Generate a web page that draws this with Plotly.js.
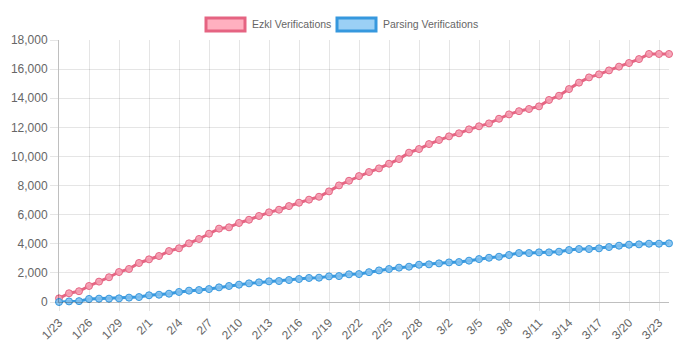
<!DOCTYPE html>
<html>
<head>
<meta charset="utf-8">
<script src="https://cdn.plot.ly/plotly-3.0.1.min.js"></script>
<style>html,body{margin:0;padding:0;background:#fff;}#chart{width:690px;height:360px;}</style>
</head>
<body>
<div id="chart"></div>
<script>
// Dates: 2024-01-23 .. 2024-03-24 (one point per day)
var startDate = "2024-01-23";
var dayCount = 62;
var seriesNames = ["Ezkl Verifications", "Parsing Verifications"];
var ezkl = [250, 600, 740, 1100, 1400, 1700, 2060, 2270, 2680, 2930, 3160, 3500, 3690, 4030, 4330, 4690,
  5040, 5130, 5430, 5650, 5910, 6160, 6340, 6590, 6820, 7030, 7230, 7600, 8010, 8330, 8650, 8930,
  9180, 9500, 9820, 10260, 10510, 10850, 11130, 11380, 11590, 11860, 12070, 12270, 12590, 12890, 13110,
  13260, 13440, 13880, 14170, 14630, 15070, 15430, 15640, 15910, 16170, 16420, 16690, 17040, 17040, 17040];
var parsing = [0, 40, 60, 210, 230, 230, 250, 300, 340, 460, 500, 570, 690, 780, 820, 890,
  1005, 1100, 1190, 1280, 1350, 1420, 1440, 1510, 1580, 1650, 1670, 1760, 1780, 1900, 1920, 2050,
  2170, 2265, 2360, 2425, 2560, 2585, 2655, 2720, 2745, 2840, 2950, 3040, 3110, 3230, 3364,
  3364, 3410, 3410, 3456, 3570, 3640, 3640, 3685, 3776, 3868, 3937, 3959, 4005, 4005, 4028];

var dates = [];
(function () {
  var d0 = new Date(startDate + "T00:00:00Z");
  for (var i = 0; i < dayCount; i++) {
    var d = new Date(d0.getTime() + i * 86400000);
    dates.push(d.toISOString().slice(0, 10));
  }
})();

var red = "rgb(229,100,130)", redFill = "rgba(245,160,180,0.9)";
var blue = "rgb(54,152,222)", blueFill = "rgba(130,192,238,0.9)";

var traces = [
  {x: dates, y: ezkl, name: seriesNames[0], type: "scatter", mode: "lines+markers",
   line: {color: red, width: 3}, marker: {size: 7, color: redFill, line: {color: red, width: 1}},
   cliponaxis: false, showlegend: false},
  {x: dates, y: parsing, name: seriesNames[1], type: "scatter", mode: "lines+markers",
   line: {color: blue, width: 3}, marker: {size: 7, color: blueFill, line: {color: blue, width: 1}},
   cliponaxis: false, showlegend: false}
];

var grid = "rgba(0,0,0,0.1)";
var font = {family: "Liberation Sans, Arial, sans-serif", size: 12, color: "#666"};
var legendFont = {family: "Liberation Sans, Arial, sans-serif", size: 10.5, color: "#666"};

function px(x) { return (x - 59) / 610; }
function py(y) { return (302 - y) / 262; }

var layout = {
  width: 690, height: 360,
  margin: {l: 59, r: 21, t: 40, b: 58},
  paper_bgcolor: "#fff", plot_bgcolor: "#fff",
  font: font,
  showlegend: false,
  xaxis: {
    type: "date",
    range: [dates[0], dates[dates.length - 1]],
    tick0: dates[0], dtick: 3 * 86400000,
    tickformat: "%-m/%-d",
    tickangle: -45,
    showgrid: true, gridcolor: grid, gridwidth: 1,
    ticks: "outside", ticklen: 8, tickcolor: grid,
    showline: true, linecolor: "rgba(0,0,0,0.25)", linewidth: 1,
    zeroline: false, fixedrange: true,
    tickfont: font
  },
  yaxis: {
    range: [0, 18000], dtick: 2000, tickformat: ",d",
    showgrid: true, gridcolor: grid, gridwidth: 1,
    ticks: "outside", ticklen: 8, tickcolor: grid,
    showline: true, linecolor: "rgba(0,0,0,0.25)", linewidth: 1,
    zeroline: false, fixedrange: true,
    tickfont: font
  },
  shapes: [
    {type: "rect", xref: "paper", yref: "paper", x0: px(206), x1: px(245), y0: py(31), y1: py(18),
     fillcolor: "rgb(255,176,192)", line: {color: red, width: 3}},
    {type: "rect", xref: "paper", yref: "paper", x0: px(337), x1: px(376), y0: py(31), y1: py(18),
     fillcolor: "rgb(155,208,245)", line: {color: blue, width: 3}}
  ],
  annotations: [
    {xref: "paper", yref: "paper", x: px(250), y: py(24.5), xanchor: "left", yanchor: "middle",
     text: seriesNames[0], showarrow: false, font: legendFont},
    {xref: "paper", yref: "paper", x: px(381), y: py(24.5), xanchor: "left", yanchor: "middle",
     text: seriesNames[1], showarrow: false, font: legendFont}
  ]
};

Plotly.newPlot("chart", traces, layout, {displayModeBar: false, staticPlot: true});
</script>
</body>
</html>
